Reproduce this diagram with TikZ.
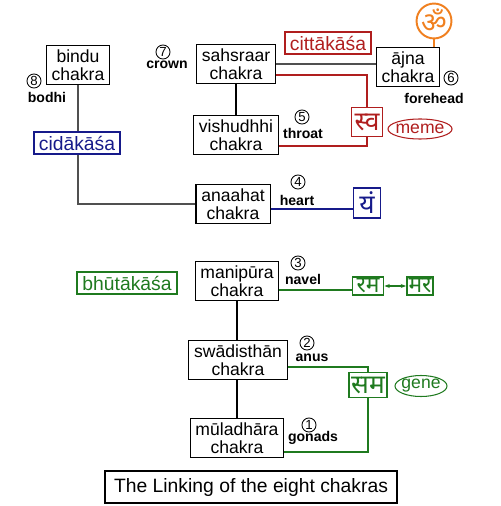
\documentclass[tikz,border=0pt]{standalone}
\usepackage{fontspec}
\setmainfont{Liberation Sans}
\newfontfamily\devafont[Script=Devanagari]{Noto Sans}
\usetikzlibrary{arrows.meta,positioning,shapes.geometric}
\definecolor{rojo}{HTML}{B01E1E}
\definecolor{azul}{HTML}{161A8A}
\definecolor{verde}{HTML}{1F7A1F}
\definecolor{naranja}{HTML}{F08020}
\definecolor{gris}{HTML}{505050}

\begin{document}
\begin{tikzpicture}[x=0.02cm,y=-0.02cm,
    chakra/.style={draw,align=center,font=\fontsize{10}{10.5}\selectfont,inner xsep=3pt,inner ysep=2pt,line width=0.6pt},
    akasa/.style={draw,line width=1.1pt,font=\fontsize{11}{12}\selectfont,inner xsep=3pt,inner ysep=2pt},
    bija/.style={draw,line width=1.1pt,font=\devafont\fontsize{15}{15}\selectfont,inner sep=0pt},
    num/.style={circle,draw,line width=0.5pt,inner sep=0pt,minimum size=8pt,font=\fontsize{7.5}{7.5}\selectfont},
    sitio/.style={font=\bfseries\fontsize{8}{8}\selectfont},
    nota/.style={ellipse,draw,line width=0.6pt,inner xsep=-1pt,inner ysep=0pt,font=\fontsize{10}{10}\selectfont},
    lazo/.style={line width=1.1pt}]
  \useasboundingbox (0,0) rectangle (500,506);
  % chakras
  \node[chakra] (bindu) at (78,65) {bindu\\chakra};
  \node[chakra] (sahs) at (236,64) {sahsraar\\chakra};
  \node[chakra] (ajna) at (408,67) {ājna\\chakra};
  \node[chakra] (vish) at (236,135) {vishudhhi\\chakra};
  \node[chakra] (anah) at (233,204) {anaahat\\chakra};
  \node[chakra] (mani) at (237,281) {manipūra\\chakra};
  \node[chakra] (swad) at (238,360) {swādisthān\\chakra};
  \node[chakra] (mula) at (237,438) {mūladhāra\\chakra};
  % numbers and places
  \foreach \n/\x/\y in {8/34/81, 7/163/52, 6/451/78, 5/302/117, 4/298/182, 3/298/263, 2/307/343, 1/309/425}
    \node[num] (n\n) at (\x,\y) {\n};
  \node[sitio] (bodhi) at (47,97) {bodhi};
  \node[sitio] (crown) at (167,65) {crown};
  \node[sitio] (forehead) at (434,98) {forehead};
  \node[sitio] (throat) at (303,133) {throat};
  \node[sitio] (heart) at (297,200) {heart};
  \node[sitio] (navel) at (303,279) {navel};
  \node[sitio] (anus) at (312,358) {anus};
  \node[sitio] (gonads) at (313,438) {gonads};
  % akasa
  \node[akasa,azul] (cida) at (77,143) {cidākāśa};
  \node[akasa,rojo] (citta) at (328,43) {cittākāśa};
  \node[akasa,verde] (bhuta) at (127,283) {bhūtākāśa};
  % bija
  \node[bija,rojo,minimum width=0.62cm,minimum height=0.58cm] (sva) at (367,122) {स्व};
  \node[bija,azul,minimum width=0.54cm,minimum height=0.6cm] (ya) at (367,203) {यं};
  \node[bija,verde,minimum width=0.62cm,minimum height=0.36cm,font=\devafont\fontsize{13}{13}\selectfont] (ram) at (368,286) {रम};
  \node[bija,verde,minimum width=0.52cm,minimum height=0.36cm,font=\devafont\fontsize{13}{13}\selectfont] (mar) at (420,286) {मर};
  \node[bija,verde,minimum width=0.76cm,minimum height=0.5cm] (sam) at (368,385) {सम};
  \node[circle,draw=naranja,text=naranja,line width=1.1pt,minimum size=0.68cm,inner sep=0pt,font=\devafont\fontsize{16}{16}\selectfont] (om) at (434,21) {ॐ};
  \node[nota,rojo,minimum width=1.26cm,minimum height=0.4cm] (meme) at (420,129) {meme};
  \node[nota,verde,minimum width=1.04cm,minimum height=0.42cm] (gene) at (421,386) {gene};
  \node[draw,line width=1.1pt,inner xsep=5pt,inner ysep=4pt,font=\fontsize{11}{11}\selectfont] (titulo) at (251,487) {The Linking of the eight chakras};
  % connectors
  \draw[line width=0.6pt,gris] (bindu) -- (bindu |- cida.north);
  \draw[line width=0.6pt,gris] (bindu |- cida.south) |- (anah);
  \draw[line width=0.6pt] (sahs) -- (vish);
  \draw[line width=0.6pt,gris] (sahs.east) -- (sahs.east -| ajna.west);
  \draw[lazo,rojo] ([yshift=-6pt]sahs.east) -| (sva.north);
  \draw[lazo,rojo] (sva.south) |- ([yshift=-6pt]vish.east);
  \draw[lazo,naranja] (om.south) -- (om.south |- ajna.north);
  \draw[lazo,azul] ([yshift=-3pt]anah.east) -- ([yshift=-3pt]anah.east -| ya.west);
  \draw[line width=0.6pt] (mani) -- (mani |- swad.north);
  \draw[line width=0.6pt] (mani |- swad.south) -- (mani |- mula.north);
  \draw[lazo,verde] ([yshift=-5pt]mani.east) -- ([yshift=-5pt]mani.east -| ram.west);
  \draw[verde,line width=0.6pt,{Stealth[length=3pt]}-{Stealth[length=3pt]}] (ram) -- (mar);
  \draw[lazo,verde] ([yshift=-4pt]swad.east) -| (sam.north);
  \draw[lazo,verde] (sam.south) |- ([yshift=-8pt]mula.east);
\end{tikzpicture}
\end{document}
